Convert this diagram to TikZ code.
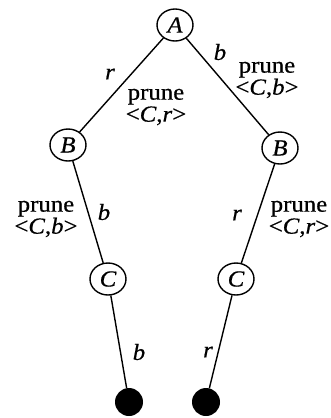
\documentclass[tikz,border=0pt]{standalone}
\usepackage{fontspec}
\setmainfont[FakeStretch=1.08,FakeBold=0.6]{Liberation Serif}
\usetikzlibrary{shapes.geometric}
\begin{document}
\begin{tikzpicture}[x=1pt,y=-1pt,
  txt/.style={font=\fontsize{23}{22}\selectfont, inner sep=0pt},
  vert/.style={txt, ellipse, draw, line width=1.4pt, minimum width=36pt, minimum height=32pt},
  leaf/.style={circle, fill=black, minimum size=28pt, inner sep=0pt},
  edge/.style={line width=1.4pt},
  lab/.style={txt, font=\fontsize{23}{22}\selectfont\itshape},
  prn/.style={txt, align=center}]
\useasboundingbox (0,0) rectangle (331,418);
\node[vert] (A)  at (175,25)  {\itshape A};
\node[vert] (B1) at (68,145)  {\itshape B};
\node[vert] (B2) at (280,148) {\itshape B};
\node[vert] (C1) at (108,279) {\itshape C};
\node[vert] (C2) at (236,279) {\itshape C};
\node[leaf] (L1) at (129,402) {};
\node[leaf] (L2) at (206,402) {};
\draw[edge] (A) -- (B1);
\draw[edge] (A) -- (B2);
\draw[edge] (B1) -- (C1);
\draw[edge] (B2) -- (C2);
\draw[edge] (C1) -- (L1);
\draw[edge] (C2) -- (L2);
\node[lab] (l1) at (110,74)  {r};
\node[lab] (l2) at (220,52)  {b};
\node[lab] (l3) at (104,212) {b};
\node[lab] (l4) at (237,215) {r};
\node[lab] (l5) at (139,352) {b};
\node[lab] (l6) at (208,352) {r};
\node[prn] (p1) at (156,107) {prune\\<\textit{C},\textit{r}>};
\node[prn] (p2) at (267,80)  {prune\\<\textit{C},\textit{b}>};
\node[prn] (p3) at (46,219)  {prune\\<\textit{C},\textit{b}>};
\node[prn] (p4) at (299,219) {prune\\<\textit{C},\textit{r}>};
\end{tikzpicture}
\end{document}
